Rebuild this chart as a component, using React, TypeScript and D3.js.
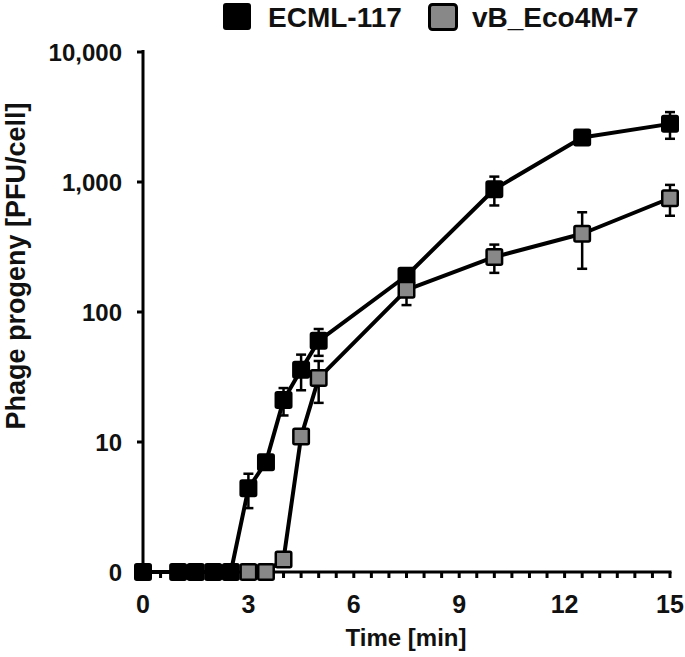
import React from 'react';
import * as d3 from 'd3';

// ECML-117 (black)
const timesA = [0, 1, 1.5, 2, 2.5, 3, 3.5, 4, 4.5, 5, 7.5, 10, 12.5, 15];
const valuesA = [0, 0, 0, 0, 0, 4.4, 7, 21, 36, 60, 190, 880, 2200, 2800];
const errorsA = [0, 0, 0, 0, 0, 1.3, 0.8, 5, 11, 14, 20, 220, 150, 650];

// vB_Eco4M-7 (grey)
const timesB = [3, 3.5, 4, 4.5, 5, 7.5, 10, 12.5, 15];
const valuesB = [0, 0, 1.25, 11, 31, 148, 265, 400, 750];
const errorsB = [0, 0, 0, 0.8, 11, 35, 65, 185, 200];

const xTicks = [0, 3, 6, 9, 12, 15];
const yTicks = [1, 10, 100, 1000, 10000];
const yTickLabels = ['0', '10', '100', '1,000', '10,000'];

const W = 685;
const H = 657;
const FONT = 'Liberation Sans, Arial, sans-serif';

function Series({ times, values, errors, fill, x, y }) {
  const pts = times.map((t, i) => ({ t, v: Math.max(values[i], 1), e: errors[i] }));
  const line = d3.line<any>().x(d => x(d.t)).y(d => y(d.v));
  const ms = 15.5;
  return (
    <g>
      <path d={line(pts) || ''} fill="none" stroke="#000" strokeWidth={4} strokeLinejoin="round" />
      {pts.filter(d => d.e > 0).map((d, i) => {
        const cx = x(d.t);
        const y1 = y(d.v + d.e);
        const y2 = y(Math.max(d.v - d.e, 1));
        return (
          <g key={'e' + i} stroke="#000" strokeWidth={2.5}>
            <line x1={cx} x2={cx} y1={y1} y2={y2} />
            <line x1={cx - 5} x2={cx + 5} y1={y1} y2={y1} />
            <line x1={cx - 5} x2={cx + 5} y1={y2} y2={y2} />
          </g>
        );
      })}
      {pts.map((d, i) => (
        <rect key={'m' + i} x={x(d.t) - ms / 2} y={y(d.v) - ms / 2} width={ms} height={ms}
          rx={1.5} fill={fill} stroke="#000" strokeWidth={2.5} />
      ))}
    </g>
  );
}

export default function App() {
  const x = d3.scaleLinear().domain([0, 15]).range([143, 670]);
  const y = d3.scaleLog().domain([1, 10000]).range([572, 52]);
  const minor = d3.range(0, 15.01, 0.5);

  return (
    <svg width={W} height={H} style={{ position: 'absolute', left: 0, top: 0, background: '#fff' }}
      fontFamily={FONT}>
      {/* legend */}
      <rect x={223} y={3} width={28} height={27} rx={3} fill="#000" />
      <text x={268} y={27} fontSize={28} fontWeight="bold" fill="#111">ECML-117</text>
      <rect x={429.5} y={4.5} width={27} height={25} rx={3} fill="#888" stroke="#000" strokeWidth={3} />
      <text x={472} y={27} fontSize={28} fontWeight="bold" fill="#111">vB_Eco4M-7</text>

      {/* y axis */}
      <line x1={143} x2={143} y1={50} y2={573.5} stroke="#000" strokeWidth={3} />
      {yTicks.map((t, i) => (
        <g key={'yt' + i}>
          <line x1={137} x2={143} y1={y(t)} y2={y(t)} stroke="#000" strokeWidth={3} />
          <text x={122} y={y(t) + 9} fontSize={24} fontWeight="bold" textAnchor="end" fill="#111">
            {yTickLabels[i]}
          </text>
        </g>
      ))}
      <text transform="translate(25,266) rotate(-90)" fontSize={27} fontWeight="bold"
        textAnchor="middle" fill="#111">Phage progeny [PFU/cell]</text>

      {/* x axis */}
      <line x1={141.5} x2={671.5} y1={572} y2={572} stroke="#000" strokeWidth={3} />
      {minor.map((t, i) => (
        <line key={'xm' + i} x1={x(t)} x2={x(t)} y1={572} y2={578} stroke="#000" strokeWidth={3} />
      ))}
      {xTicks.map((t, i) => (
        <text key={'xt' + i} x={x(t)} y={613} fontSize={25} fontWeight="bold" textAnchor="middle" fill="#111">
          {t}
        </text>
      ))}
      <text x={406} y={646} fontSize={24} fontWeight="bold" textAnchor="middle" fill="#111">Time [min]</text>

      <Series times={timesA} values={valuesA} errors={errorsA} fill="#000" x={x} y={y} />
      <Series times={timesB} values={valuesB} errors={errorsB} fill="#888" x={x} y={y} />
    </svg>
  );
}
